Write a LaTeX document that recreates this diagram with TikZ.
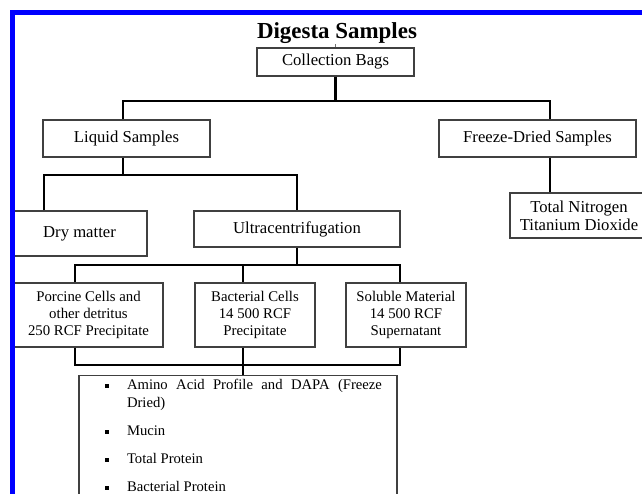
\documentclass[tikz,border=0pt]{standalone}
\usepackage{fontspec}
\setmainfont{Liberation Serif}
\newcommand\mybullet{\leavevmode\llap{\rule[1.2pt]{3pt}{3pt}\hspace{13.5pt}}}
\begin{document}
\begin{tikzpicture}[x=0.75pt,y=-0.75pt,
  box/.style={draw=black!75, line width=0.8pt, fill=white, inner sep=2pt, align=center},
  bigbox/.style={box, font=\fontsize{12.5}{13.5}\selectfont},
  smallbox/.style={box, font=\fontsize{11.1}{12.75}\selectfont},
  conn/.style={line width=2pt, line join=miter, draw=black}]
\useasboundingbox (0,0) rectangle (642,493);
\clip (0,0) rectangle (642,493);
\fill[white] (0,0) rectangle (642,493);

% title
\node[anchor=base, font=\fontsize{17.2}{19}\selectfont\bfseries] (title) at (337,38) {Digesta Samples};

% boxes
\node[bigbox, minimum width=117.75pt, minimum height=21pt] (cb) at (335.5,62) {Collection Bags};
\node[bigbox, minimum width=125.25pt, minimum height=27.75pt] (liq) at (126.5,138.5) {Liquid Samples};
\node[bigbox, minimum width=147.75pt, minimum height=27.75pt] (frz) at (537.5,138.5) {Freeze-Dried Samples};
\node[bigbox, minimum width=101.25pt, minimum height=33.75pt] (dry) at (79.5,233.5) {Dry matter};
\node[bigbox, minimum width=154.5pt, minimum height=27pt] (ultra) at (297,229) {Ultracentrifugation};
\node[box, font=\fontsize{12.5}{13.5}\selectfont, minimum width=112.5pt, minimum height=33.75pt] (tn) at (585,215.5)
  {\hspace*{-9pt}Total Nitrogen\\\hspace*{-9pt}Titanium Dioxide};
\node[smallbox, minimum width=111.75pt, minimum height=48pt] (por) at (88.5,315) {Porcine Cells and\\other detritus\\250 RCF Precipitate};
\node[smallbox, minimum width=90pt, minimum height=48pt] (bac) at (255,315) {Bacterial Cells\\14 500 RCF\\Precipitate};
\node[smallbox, minimum width=90pt, minimum height=48pt] (sol) at (406,315) {Soluble Material\\14 500 RCF\\Supernatant};
\node[box, anchor=north, text width=238.5pt, inner xsep=0pt, inner ysep=0pt, align=justify,
      font=\fontsize{11}{13.5}\selectfont] (ami) at (238,375)
  {\leftskip=36pt \rightskip=11.25pt \parskip=7.5pt \parindent=0pt \tolerance=10000 \hyphenpenalty=10000
   \mybullet\rule{0pt}{10.5pt}Amino Acid Profile and DAPA (Freeze Dried)\par
   \mybullet Mucin\par
   \mybullet Total Protein\par
   \mybullet Bacterial Protein\par
   \leavevmode\rule{0pt}{80pt}};

% junction coordinates
\coordinate (j0) at (335.5,101);
\coordinate (jl) at (123,101);
\coordinate (jf) at (550,101);
\coordinate (k0) at (123,175);
\coordinate (kd) at (44,175);
\coordinate (ku) at (297,175);
\coordinate (m0) at (297,265);
\coordinate (mp) at (75,265);
\coordinate (mb) at (243,265);
\coordinate (ms) at (400,265);
\coordinate (n0) at (243,365);
\coordinate (np) at (75,365);
\coordinate (ns) at (400,365);

% connectors
\draw[black!55, line width=0.6pt] (cb.north) -- ++(0,-3);
\draw[conn] (cb.south) -- (j0);
\draw[conn] (liq.north -| jl) -- (jl) -- (jf) -- (frz.north -| jf);
\draw[conn] (liq.south -| k0) -- (k0);
\draw[conn] (dry.north -| kd) -- (kd) -- (ku) -- (ultra.north -| ku);
\draw[conn] (frz.south -| jf) -- (tn.north -| jf);
\draw[conn] (ultra.south -| m0) -- (m0);
\draw[conn] (por.north -| mp) -- (mp) -- (ms) -- (sol.north -| ms);
\draw[conn] (mb) -- (bac.north -| mb);
\draw[conn] (por.south -| np) -- (np) -- (ns) -- (sol.south -| ns);
\draw[conn] (bac.south -| n0) -- (ami.north -| n0);

% blue frame
\draw[blue, line width=3.75pt] (12.5,700) |- (800,12.5);
\end{tikzpicture}
\end{document}
